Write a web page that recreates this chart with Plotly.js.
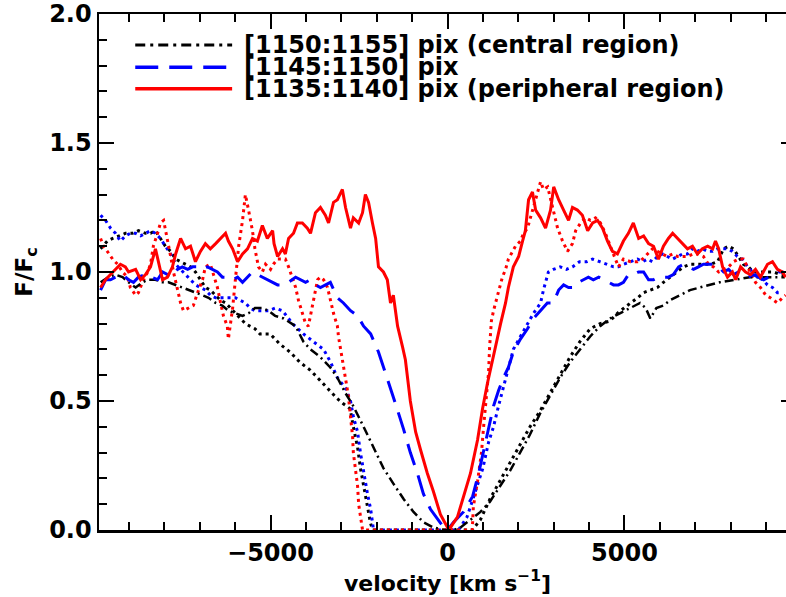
<!DOCTYPE html>
<html>
<head>
<meta charset="utf-8">
<script src="https://cdn.plot.ly/plotly-3.0.1.min.js"></script>
<style>
html,body{margin:0;padding:0;overflow:hidden;background:#fff;width:786px;height:597px;}
#chart{width:800px;height:597px;}
</style>
</head>
<body>
<div id="chart"></div>
<script>
// ---- data (velocity in km/s, normalised flux F/Fc) ----
const legendLabels = ["[1150:1155] pix (central region)", "[1145:1150] pix", "[1135:1140] pix (peripheral region)"];

// red solid: [1135:1140] pix (peripheral region)
const redV = [-9800,-9660,-9520,-9380,-9240,-9100,-9010,-8810,-8670,-8530,
-8390,-8250,-8160,-8050,-7910,-7770,-7680,-7540,-7400,-7260,
-7120,-6980,-6840,-6700,-6550,-6410,-6270,-6190,-6070,-5930,
-5790,-5650,-5510,-5370,-5230,-5090,-4940,-4900,-4800,-4660,
-4580,-4490,-4350,-4240,-4100,-3960,-3870,-3730,-3590,-3450,
-3360,-3220,-3110,-2970,-2880,-2740,-2660,-2510,-2400,-2320,
-2230,-2120,-2030,-1950,-1810,-1700,-1610,-1530,-1410,-1270,
-1190,-1050,-900,-760,-570,-400,-200,0,85,280,
450,650,850,990,1130,1270,1410,1500,1640,1720,
1860,2010,2120,2200,2290,2400,2490,2630,2770,2910,
3000,3140,3280,3420,3530,3670,3810,3960,4100,4240,
4380,4520,4660,4800,4970,5110,5250,5400,5540,5680,
5820,5960,6100,6240,6360,6500,6640,6780,6920,7060,
7200,7350,7490,7570,7660,7770,7910,8050,8140,8280,
8420,8560,8700,8840,9040,9180,9320,9460,9550];
const redF = [0.94,0.97,0.99,1.01,1.03,1.02,1.00,1.01,0.97,0.99,
1.02,1.09,1.03,0.97,0.98,1.02,1.07,1.13,1.09,1.10,
1.04,1.08,1.11,1.09,1.11,1.13,1.15,1.12,1.09,1.04,
1.07,1.09,1.13,1.12,1.18,1.13,1.16,1.11,1.06,1.09,
1.07,1.13,1.15,1.19,1.19,1.17,1.15,1.23,1.25,1.22,
1.19,1.27,1.28,1.32,1.25,1.17,1.21,1.19,1.23,1.30,
1.27,1.19,1.13,1.02,1.00,0.97,0.88,0.91,0.79,0.71,
0.66,0.50,0.38,0.31,0.22,0.15,0.06,0.01,0.01,0.05,
0.13,0.22,0.35,0.47,0.57,0.66,0.74,0.80,0.88,0.94,
1.02,1.06,1.12,1.16,1.28,1.31,1.24,1.21,1.17,1.24,
1.33,1.28,1.24,1.20,1.25,1.24,1.22,1.16,1.19,1.20,
1.17,1.12,1.08,1.07,1.12,1.15,1.19,1.13,1.14,1.11,
1.10,1.05,1.10,1.13,1.15,1.13,1.11,1.09,1.10,1.07,
1.09,1.10,1.09,1.12,1.09,1.02,0.98,1.00,0.97,1.02,
1.00,0.99,1.01,0.98,1.03,1.04,1.01,1.00,0.98];

// blue dashed: [1145:1150] pix
const blueV = [-9800,-9660,-9520,-9380,-9180,-9010,-8870,-8730,-8530,-8330,
-8190,-8050,-7910,-7770,-7630,-7490,-7340,-7200,-7060,-6920,
-6780,-6640,-6500,-6360,-6220,-6070,-5930,-5790,-5650,-5510,
-5370,-5230,-5090,-4940,-4800,-4630,-4490,-4290,-4150,-4010,
-3870,-3730,-3590,-3450,-3310,-3110,-2940,-2740,-2540,-2370,
-2170,-1950,-1700,-1470,-1240,-1050,-850,-680,-480,-280,
-110,0,170,450,710,880,1020,1160,1300,1440,
1580,1720,1860,2060,2260,2430,2630,2820,2990,3140,
3280,3420,3560,3700,3840,3980,4120,4270,4410,4550,
4690,4830,4970,5110,5250,5400,5540,5680,5820,5960,
6100,6240,6380,6530,6670,6810,6950,7090,7230,7370,
7510,7660,7800,7940,8080,8220,8360,8500,8640,8790,
8930,9070,9210,9350,9490];
const blueF = [0.93,0.97,0.97,0.98,0.99,0.97,0.96,0.98,0.99,0.98,
0.97,1.00,0.99,0.98,1.01,1.02,1.01,1.02,1.02,1.01,
1.02,1.01,1.00,0.98,0.98,0.97,0.98,0.96,0.98,1.00,
0.99,0.98,0.97,0.96,0.95,0.95,0.96,0.98,0.97,0.96,
0.97,0.95,0.94,0.95,0.96,0.90,0.88,0.85,0.83,0.79,
0.76,0.69,0.59,0.49,0.39,0.30,0.22,0.14,0.08,0.04,
0.01,0.00,0.03,0.07,0.13,0.22,0.31,0.40,0.48,0.54,
0.59,0.63,0.69,0.74,0.78,0.82,0.85,0.88,0.88,0.93,
0.95,0.94,0.94,0.96,0.97,0.98,0.97,0.98,0.97,0.96,
0.95,0.95,0.96,0.99,0.99,1.00,1.00,0.97,0.97,0.98,
0.98,0.98,0.99,1.02,1.03,1.02,1.01,1.02,1.03,1.03,
1.03,1.02,1.00,1.01,0.99,1.00,0.99,0.98,0.99,0.98,
0.97,0.98,0.99,1.00,1.00];

// black dash-dot: [1150:1155] pix (central region)
const blackV = [-9800,-9580,-9380,-9180,-9010,-8810,-8620,-8450,-8250,-8050,
-7880,-7680,-7490,-7320,-7120,-6920,-6750,-6550,-6360,-6190,
-5990,-5790,-5620,-5440,-5230,-5060,-4870,-4630,-4290,-4070,
-3870,-3590,-3310,-3110,-2880,-2660,-2370,-2090,-1810,-1530,
-1240,-960,-680,-400,-110,170,370,650,930,1200,
1480,1770,2050,2330,2610,2900,3180,3460,3740,4030,
4310,4590,4870,5150,5440,5600,5730,5900,6100,6280,
6570,6850,7130,7410,7690,8120,8540,8960,9530];
const blackF = [0.96,0.98,0.99,0.98,0.96,0.94,0.96,0.97,0.97,0.96,
0.96,0.95,0.94,0.93,0.92,0.91,0.90,0.88,0.87,0.85,
0.84,0.83,0.84,0.86,0.86,0.85,0.83,0.82,0.79,0.73,
0.70,0.67,0.63,0.59,0.53,0.48,0.40,0.32,0.24,0.18,
0.12,0.07,0.03,0.01,0.00,0.00,0.01,0.04,0.07,0.11,
0.17,0.23,0.30,0.37,0.45,0.52,0.59,0.65,0.70,0.75,
0.79,0.82,0.84,0.86,0.88,0.86,0.82,0.86,0.87,0.89,
0.91,0.93,0.94,0.95,0.96,0.97,0.98,0.98,0.98];

// dotted companions (no legend entry)
const redDotV = [-9800,-9720,-9610,-9460,-9320,-9180,-9040,-8960,-8810,-8730,
-8620,-8470,-8390,-8310,-8190,-8110,-8020,-7910,-7820,-7740,
-7630,-7540,-7460,-7320,-7180,-7060,-6920,-6840,-6700,-6610,
-6500,-6410,-6330,-6220,-6190,-6070,-5990,-5900,-5790,-5710,
-5620,-5510,-5440,-5340,-5230,-5140,-5000,-4920,-4800,-4580,
-4490,-4380,-4290,-4210,-4100,-4010,-3930,-3870,-3810,-3670,
-3590,-3500,-3390,-3310,-3220,-3110,-3080,-2970,-2880,-2800,
-2740,-2680,-2660,-2600,-2540,-2510,-2460,-2400,700,730,
850,960,1020,1090,1160,1190,1240,1300,1360,1440,
1550,1640,1720,1840,1920,2060,2150,2260,2340,2430,
2540,2630,2710,2830,2970,3110,3250,3390,3530,3620,
3760,3900,4040,4180,4320,4460,4600,4750,4830,4970,
5170,5370,5510,5650,5790,5930,6070,6210,6360,6500,
6640,6780,6950,7090,7230,7370,7510,7660,7800,7940,
8080,8220,8360,8480,8560,8700,8840,8990,9120,9320,
9460,9550];
const redDotF = [1.13,1.10,1.08,1.05,1.03,1.00,0.98,0.94,0.91,0.92,
0.96,1.00,1.03,1.10,1.15,1.19,1.20,1.13,1.06,1.00,
0.93,0.88,0.85,0.86,0.87,0.92,0.97,1.02,1.03,0.99,
0.94,0.88,0.83,0.79,0.74,0.86,0.97,1.10,1.20,1.30,
1.24,1.16,1.09,1.02,1.00,1.03,1.01,1.03,1.05,1.05,
1.02,0.98,0.94,0.89,0.84,0.80,0.79,0.83,0.88,0.97,
0.98,0.97,0.94,0.89,0.84,0.79,0.75,0.66,0.58,0.52,
0.44,0.36,0.30,0.23,0.17,0.10,0.05,0.00,0.00,0.09,
0.19,0.30,0.40,0.50,0.61,0.71,0.81,0.85,0.88,0.93,
0.98,1.01,1.05,1.08,1.10,1.12,1.15,1.17,1.21,1.25,
1.31,1.35,1.32,1.33,1.25,1.17,1.12,1.08,1.11,1.16,
1.19,1.21,1.20,1.21,1.19,1.15,1.10,1.05,1.02,1.05,
1.04,1.04,1.05,1.07,1.09,1.08,1.07,1.06,1.07,1.06,
1.06,1.06,1.07,1.07,1.06,1.03,1.02,1.00,1.01,1.02,
1.04,1.05,1.05,1.02,1.00,0.96,0.94,0.91,0.90,0.88,
0.90,0.91];

const blueDotV = [-9800,-9660,-9520,-9380,-9240,-9100,-8960,-8810,-8670,-8530,
-8390,-8250,-8110,-7970,-7820,-7680,-7540,-7400,-7260,-7120,
-6980,-6840,-6700,-6550,-6410,-6270,-6130,-5990,-5850,-5710,
-5580,-5440,-5230,-5060,-4870,-4660,-4380,-4070,-3790,-3500,
-3300,-3110,-2880,-2740,-2660,-2540,-2460,-2370,-2260,-2170,
-2120,-2090,310,550,720,860,1000,1160,1300,1440,
1580,1720,1860,2060,2260,2430,2630,2710,2850,2990,
3180,3360,3530,3730,3930,4100,4300,4500,4690,4830,
4970,5170,5370,5510,5650,5790,5930,6070,6210,6360,
6500,6640,6780,6920,7060,7200,7350,7490,7630,7770,
7910,8050,8190,8330,8480,8620,8760,8900,9040,9180,
9320,9460];
const blueDotF = [1.22,1.20,1.17,1.15,1.12,1.14,1.15,1.15,1.14,1.15,
1.16,1.15,1.13,1.10,1.07,1.03,1.01,0.99,0.97,0.95,
0.94,0.93,0.91,0.90,0.90,0.90,0.90,0.90,0.89,0.88,
0.86,0.85,0.85,0.85,0.86,0.85,0.80,0.76,0.73,0.70,
0.65,0.59,0.55,0.50,0.44,0.38,0.30,0.22,0.14,0.08,
0.03,0.00,0.00,0.05,0.12,0.18,0.24,0.34,0.40,0.48,
0.55,0.63,0.70,0.75,0.80,0.84,0.88,0.93,1.00,1.01,
1.02,1.01,1.02,1.04,1.04,1.05,1.04,1.03,1.02,1.02,
1.03,1.04,1.05,1.04,1.05,1.04,1.06,1.07,1.06,1.05,
1.06,1.07,1.07,1.09,1.08,1.09,1.08,1.08,1.09,1.09,
1.09,1.08,1.06,1.05,1.02,1.00,0.98,0.97,0.95,0.94,
0.92,0.92];

const blackDotV = [-9800,-9610,-9460,-9290,-9100,-8900,-8730,-8530,-8390,-8250,
-8110,-7970,-7820,-7680,-7540,-7400,-7260,-7120,-6980,-6840,
-6700,-6550,-6410,-6270,-6130,-5990,-5850,-5710,-5580,-5440,
-5300,-5160,-5010,-4730,-4450,-4170,-3880,-3600,-3320,-3120,
-2950,-2750,-2660,-2540,-2460,-2370,-2260,-2180,-2120,700,
930,1200,1480,1770,2050,2330,2610,2900,3180,3460,
3740,4030,4310,4590,4800,4970,5170,5370,5540,5730,
5930,6100,6300,6500,6670,6860,7060,7230,7430,7630,
7800,7940,8080,8220,8360,8500,8640,8840,9040,9210,
9410,9550];
const blackDotF = [1.09,1.12,1.13,1.14,1.15,1.15,1.16,1.15,1.15,1.16,
1.13,1.10,1.08,1.05,1.04,1.03,1.02,1.00,0.97,0.94,
0.93,0.91,0.89,0.88,0.86,0.84,0.82,0.80,0.79,0.78,
0.76,0.76,0.76,0.72,0.69,0.65,0.62,0.58,0.54,0.51,
0.49,0.47,0.40,0.32,0.24,0.17,0.09,0.03,0.00,0.00,
0.04,0.12,0.19,0.26,0.33,0.40,0.46,0.53,0.60,0.67,
0.73,0.78,0.80,0.81,0.84,0.86,0.88,0.90,0.92,0.93,
0.94,0.96,0.98,1.00,1.02,1.03,1.03,1.03,1.03,1.04,
1.09,1.10,1.09,1.06,1.03,1.02,1.00,1.00,1.00,1.00,
0.99,0.99];

// ---- styles ----
const RED = '#ff0000', BLUE = '#0000ff', BLACK = '#000000';
const DOT = '3px,4px';
const DASH = '22px,11px';
const DASHDOT = '9px,4px,2px,4px';
const FONT = 'DejaVu Sans, sans-serif';

const traces = [
  {x: blackDotV, y: blackDotF, mode: 'lines', line: {color: BLACK, width: 3, dash: DOT}, showlegend: false},
  {x: blueDotV, y: blueDotF, mode: 'lines', line: {color: BLUE, width: 3, dash: DOT}, showlegend: false},
  {x: redDotV, y: redDotF, mode: 'lines', line: {color: RED, width: 3, dash: DOT}, showlegend: false},
  {x: blackV, y: blackF, mode: 'lines', name: legendLabels[0], line: {color: BLACK, width: 2.5, dash: DASHDOT}},
  {x: blueV, y: blueF, mode: 'lines', name: legendLabels[1], line: {color: BLUE, width: 3, dash: DASH}},
  {x: redV, y: redF, mode: 'lines', name: legendLabels[2], line: {color: RED, width: 3}}
];

// custom legend (paper coordinates)
const legRows = [0.940, 0.897, 0.855];
const legStyles = [{color: BLACK, width: 3, dash: '10px,5px,3px,5px'}, {color: BLUE, width: 3.5, dash: '23px,11px'}, {color: RED, width: 3.5, dash: 'solid'}];
const shapes = legRows.map((yy, i) => ({type: 'line', xref: 'paper', yref: 'paper', x0: 0.052, x1: 0.191, y0: yy, y1: yy, line: legStyles[i]}));
const annotations = legRows.map((yy, i) => ({xref: 'paper', yref: 'paper', x: 0.205, y: yy, xanchor: 'left', yanchor: 'middle', showarrow: false, text: legendLabels[i], font: {family: FONT, size: 24, color: BLACK, weight: 'bold'}}));

const axisCommon = {
  showline: true, linewidth: 2.5, linecolor: BLACK, mirror: 'allticks',
  ticks: 'inside', ticklen: 15, tickwidth: 2, tickcolor: BLACK,
  showgrid: false, zeroline: false,
  tickfont: {family: FONT, size: 24, color: BLACK, weight: 'bold'}
};

const layout = {
  width: 800, height: 597,
  margin: {l: 99, r: 4, t: 14, b: 67, pad: 0},
  paper_bgcolor: '#fff', plot_bgcolor: '#fff',
  showlegend: false,
  xaxis: Object.assign({}, axisCommon, {
    range: [-9845, 9845], tickvals: [-5000, 0, 5000], ticktext: ['\u22125000', '0', '5000'],
    minor: {dtick: 1000, tick0: 0, ticks: 'inside', ticklen: 8, tickwidth: 2, tickcolor: BLACK},
    title: {text: 'velocity [km s<sup>\u22121</sup>]', font: {family: FONT, size: 22, color: BLACK, weight: 'bold'}, standoff: 2}
  }),
  yaxis: Object.assign({}, axisCommon, {
    range: [0, 2], tickvals: [0, 0.5, 1, 1.5, 2], ticktext: ['0.0', '0.5', '1.0', '1.5', '2.0'],
    minor: {dtick: 0.1, tick0: 0, ticks: 'inside', ticklen: 8, tickwidth: 2, tickcolor: BLACK},
    title: {text: 'F/F<sub>c</sub>', font: {family: FONT, size: 23, color: BLACK, weight: 'bold'}, standoff: 10}
  }),
  shapes: shapes,
  annotations: annotations
};

Plotly.newPlot('chart', traces, layout, {staticPlot: true, displayModeBar: false});
</script>
</body>
</html>
